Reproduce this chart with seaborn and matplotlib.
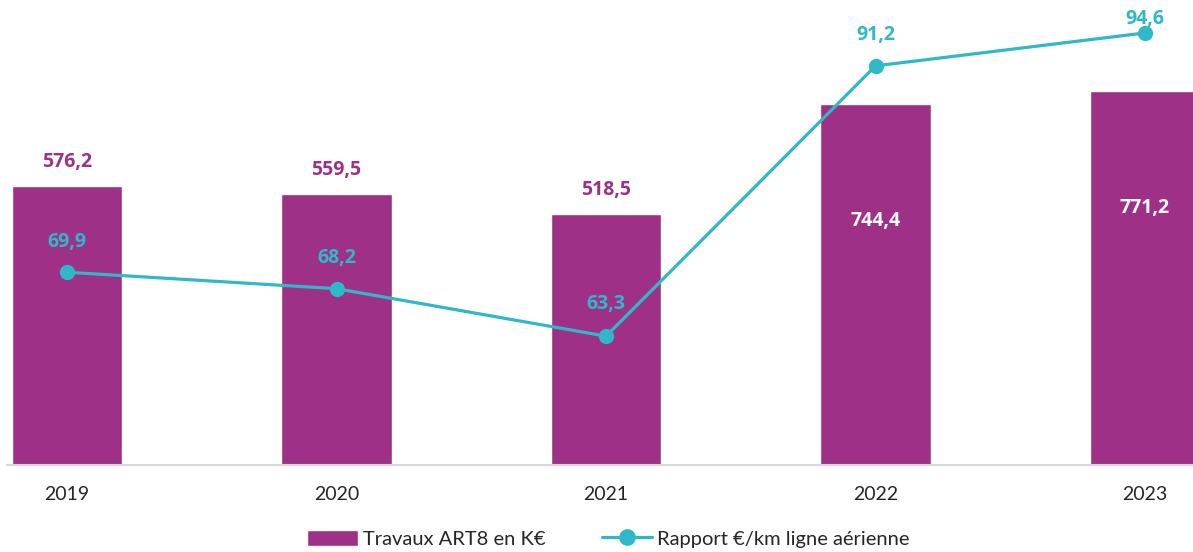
import numpy as np
import pandas as pd
import matplotlib
matplotlib.use("Agg")
import matplotlib.pyplot as plt
import seaborn as sns
from matplotlib.lines import Line2D
from matplotlib.patches import Patch

# ── Données ───────────────────────────────────────────────────
annees   = ["2019", "2020", "2021", "2022", "2023"]
travaux  = [576.2, 559.5, 518.5, 744.4, 771.2]   # Travaux ART8 en K€
rapport  = [69.9, 68.2, 63.3, 91.2, 94.6]        # Rapport €/km ligne aérienne

VIOLET = "#9E3187"
TURQ   = "#2FB8C8"
GRAS   = ["Open Sans", "DejaVu Sans"]

sns.set_theme(style="white")
plt.rcParams["font.family"] = ["Lato", "DejaVu Sans"]

df = pd.DataFrame({"annee": annees, "travaux": travaux, "rapport": rapport})
df["pos"] = np.arange(len(df))

fig = plt.figure(figsize=(11.93, 5.52), dpi=100)
ax = fig.add_axes([7 / 1193, 87 / 552, 1186 / 1193, 465 / 552])

sns.barplot(data=df, x="annee", y="travaux", color=VIOLET, width=0.41,
            saturation=1, ax=ax)
ax.set_ylim(0, 960)
ax.set_xlim(-0.2226, 4.178)

ax2 = ax.twinx()
sns.lineplot(data=df, x="pos", y="rapport", color=TURQ, linewidth=2.3,
             marker="o", markersize=11, markeredgewidth=0, ax=ax2)
ax2.set_ylim(50, 98)

for a in (ax, ax2):
    a.set_ylabel("")
    a.set_yticks([])
    for s in ["top", "left", "right", "bottom"]:
        a.spines[s].set_visible(False)
ax.spines["bottom"].set_visible(True)
ax.spines["bottom"].set_color("#d9d9d9")
ax.spines["bottom"].set_linewidth(1.5)

ax.set_xlabel("")
ax2.set_xlabel("")
ax.tick_params(axis="x", length=0, pad=15, labelsize=14, labelcolor="#262626")

# étiquettes des barres
for i, v in enumerate(travaux):
    txt = f"{v:.1f}".replace(".", ",")
    if v < 700:
        ax.annotate(txt, (i, v), xytext=(0, 17), textcoords="offset points",
                    ha="center", va="center", fontsize=14, fontweight="bold",
                    family=GRAS, color=VIOLET)
    else:
        ax.annotate(txt, (i, v), xytext=(0, -84), textcoords="offset points",
                    ha="center", va="center", fontsize=14, fontweight="bold",
                    family=GRAS, color="white")

# étiquettes de la courbe
decal = [22, 22, 23, 22, 10]
for i, v in enumerate(rapport):
    ax2.annotate(f"{v:.1f}".replace(".", ","), (i, v), xytext=(0, decal[i]),
                 textcoords="offset points", ha="center", va="center",
                 fontsize=14, fontweight="bold", family=GRAS, color=TURQ)

handles = [Patch(facecolor=VIOLET, label="Travaux ART8 en K€"),
           Line2D([0], [0], color=TURQ, linewidth=2.3, marker="o",
                  markersize=11, label="Rapport €/km ligne aérienne")]
fig.legend(handles=handles, loc="center", bbox_to_anchor=(0.51, 0.024),
           ncol=2, frameon=False, fontsize=14.5, handlelength=2.5,
           handleheight=0.9, handletextpad=0.25, columnspacing=2.8,
           borderpad=0.1)

fig.savefig("out.png", dpi=100)
plt.close(fig)
